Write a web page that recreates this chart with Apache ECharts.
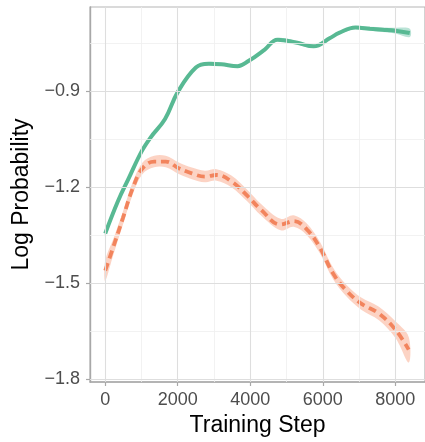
<!DOCTYPE html>
<html>
<head>
<meta charset="utf-8">
<script src="https://cdn.jsdelivr.net/npm/echarts@6/dist/echarts.min.js"></script>
<style>
  html, body { margin: 0; padding: 0; background: #ffffff; }
  #chart { width: 425px; height: 442px; }
</style>
</head>
<body>
<div id="chart"></div>
<script>
// Smoothed log-probability over training, with confidence ribbons.
const greenSteps = [0, 350, 650, 1000, 1250, 1650, 2000, 2500, 2850, 3200, 3650, 3950, 4400, 4750, 5300, 5750, 6200, 6450, 6900, 7300, 7650, 8000, 8400];
const greenMean  = [-1.345, -1.244, -1.172, -1.089, -1.045, -0.987, -0.903, -0.826, -0.814, -0.816, -0.822, -0.806, -0.770, -0.739, -0.749, -0.760, -0.734, -0.718, -0.701, -0.705, -0.708, -0.711, -0.718];
const greenHalf  = [0.008, 0.006, 0.005, 0.005, 0.005, 0.005, 0.005, 0.005, 0.005, 0.005, 0.005, 0.005, 0.005, 0.005, 0.005, 0.005, 0.005, 0.005, 0.005, 0.006, 0.007, 0.009, 0.013];

const orangeSteps = [0, 220, 490, 760, 1030, 1350, 1670, 2030, 2390, 2750, 3070, 3480, 3930, 4290, 4840, 5200, 5560, 5920, 6290, 6650, 7060, 7550, 8010, 8370];
const orangeMean  = [-1.461, -1.388, -1.296, -1.203, -1.141, -1.120, -1.120, -1.141, -1.157, -1.167, -1.162, -1.182, -1.228, -1.270, -1.317, -1.306, -1.332, -1.389, -1.471, -1.523, -1.564, -1.595, -1.646, -1.708];
const orangeHalf  = [0.032, 0.025, 0.021, 0.019, 0.018, 0.018, 0.018, 0.018, 0.018, 0.018, 0.018, 0.018, 0.018, 0.018, 0.018, 0.018, 0.018, 0.018, 0.018, 0.018, 0.019, 0.021, 0.026, 0.040];

const xTicks = [0, 2000, 4000, 6000, 8000];
const xMinor = [1000, 3000, 5000, 7000];
const yTicks = [-1.8, -1.5, -1.2, -0.9];
const yMinor = [-1.65, -1.35, -1.05, -0.75];

const GREEN = '#58b993';
const GREEN_BAND = 'rgba(102, 194, 165, 0.45)';
const ORANGE = '#f2845d';
const ORANGE_BAND = 'rgba(248, 150, 115, 0.42)';
const FONT = 'Liberation Sans, Arial, sans-serif';

const pairs = (xs, ys) => xs.map((x, i) => [x, ys[i]]);

const chart = echarts.init(document.getElementById('chart'), null, { renderer: 'canvas' });

const gridLines = [
  ...yMinor.map(v => ({ yAxis: v, lineStyle: { color: '#efefef', width: 0.8, type: 'solid' } })),
  ...xMinor.map(v => ({ xAxis: v, lineStyle: { color: '#efefef', width: 0.8, type: 'solid' } })),
  ...yTicks.map(v => ({ yAxis: v, lineStyle: { color: '#dedede', width: 1.1, type: 'solid' } })),
  ...xTicks.map(v => ({ xAxis: v, lineStyle: { color: '#dedede', width: 1.1, type: 'solid' } }))
];

// Ribbon: one closed polygon (upper edge forward, lower edge back), placed through the axes.
function band(name, steps, mean, half, color) {
  return {
    name: name + '-band', type: 'custom', silent: true, z: 2,
    data: steps.map((x, i) => [x, mean[i] - half[i], mean[i] + half[i]]),
    encode: { x: 0, y: [1, 2] },
    renderItem: (params, api) => {
      if (params.dataIndex !== 0) return null;
      const upper = steps.map((x, i) => api.coord([x, mean[i] + half[i]]));
      const lowerPts = steps.map((x, i) => api.coord([x, mean[i] - half[i]])).reverse();
      return {
        type: 'polygon',
        shape: { points: upper.concat(lowerPts), smooth: 0.35 },
        style: { fill: color, stroke: null }
      };
    }
  };
}

chart.setOption({
  animation: false,
  backgroundColor: '#ffffff',
  grid: {
    left: 90, top: 7, width: 340, height: 379,
    show: true, borderColor: '#b5b5b5', borderWidth: 1.2, backgroundColor: '#ffffff'
  },
  xAxis: {
    type: 'value', min: -420, max: 8820,
    splitLine: { show: false },
    axisLine: { show: true, onZero: false, lineStyle: { color: '#a8a8a8', width: 1.6 } },
    axisTick: { show: true, customValues: xTicks, length: 4, lineStyle: { color: '#a8a8a8', width: 1.2 } },
    axisLabel: {
      customValues: xTicks, fontSize: 18, color: '#4d4d4d', margin: 9, fontFamily: FONT,
      formatter: v => String(v)
    },
    name: 'Training Step', nameLocation: 'middle', nameGap: 32,
    nameTextStyle: { fontSize: 23, color: '#000000', fontFamily: FONT }
  },
  yAxis: {
    type: 'value', min: -1.809, max: -0.637,
    splitLine: { show: false },
    axisLine: { show: true, onZero: false, lineStyle: { color: '#a8a8a8', width: 1.4 } },
    axisTick: { show: true, customValues: yTicks, length: 4, lineStyle: { color: '#a8a8a8', width: 1.2 } },
    axisLabel: {
      customValues: yTicks, fontSize: 18, color: '#4d4d4d', margin: 10, fontFamily: FONT,
      formatter: v => v.toFixed(1).replace('-', '\u2212')
    },
    name: 'Log Probability', nameLocation: 'middle', nameGap: 52,
    nameTextStyle: { fontSize: 23, color: '#000000', fontFamily: FONT }
  },
  series: [
    {
      name: 'grid', type: 'line', symbol: 'none', silent: true, z: 1,
      lineStyle: { opacity: 0 }, data: [],
      markLine: { silent: true, symbol: ['none', 'none'], label: { show: false }, animation: false, data: gridLines }
    },
    band('green', greenSteps, greenMean, greenHalf, GREEN_BAND),
    band('orange', orangeSteps, orangeMean, orangeHalf, ORANGE_BAND),
    {
      name: 'green', type: 'line', smooth: 0.4, symbol: 'none', z: 3,
      lineStyle: { color: GREEN, width: 4 },
      data: pairs(greenSteps, greenMean)
    },
    {
      name: 'orange', type: 'line', smooth: 0.4, symbol: 'none', z: 3,
      lineStyle: { color: ORANGE, width: 3.8, type: [8, 5] },
      data: pairs(orangeSteps, orangeMean)
    }
  ]
});
</script>
</body>
</html>
